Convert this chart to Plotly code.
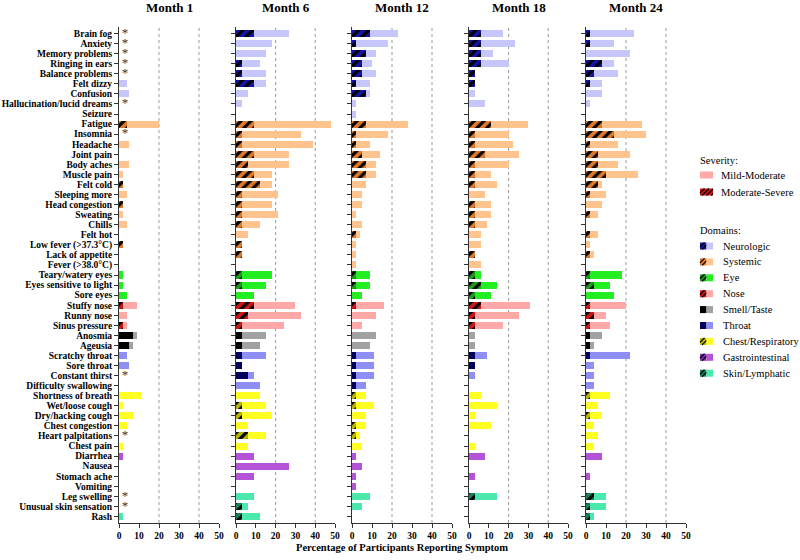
import plotly.graph_objects as go

symptoms = [
    "Brain fog", "Anxiety", "Memory problems", "Ringing in ears", "Balance problems",
    "Felt dizzy", "Confusion", "Hallucination/lucid dreams", "Seizure",
    "Fatigue", "Insomnia", "Headache", "Joint pain", "Body aches", "Muscle pain",
    "Felt cold", "Sleeping more", "Head congestion", "Sweating", "Chills", "Felt hot",
    "Low fever (>37.3°C)", "Lack of appetite", "Fever (>38.0°C)",
    "Teary/watery eyes", "Eyes sensitive to light", "Sore eyes",
    "Stuffy nose", "Runny nose", "Sinus pressure",
    "Anosmia", "Ageusia",
    "Scratchy throat", "Sore throat", "Constant thirst", "Difficulty swallowing",
    "Shortness of breath", "Wet/loose cough", "Dry/hacking cough", "Chest congestion",
    "Heart palpitations", "Chest pain",
    "Diarrhea", "Nausea", "Stomach ache", "Vomiting",
    "Leg swelling", "Unusual skin sensation", "Rash",
]
domains = (["Neurologic"] * 9 + ["Systemic"] * 15 + ["Eye"] * 3 + ["Nose"] * 3 +
           ["Smell/Taste"] * 2 + ["Throat"] * 4 + ["Chest/Respiratory"] * 6 +
           ["Gastrointestinal"] * 4 + ["Skin/Lymphatic"] * 3)

months = ["Month 1", "Month 6", "Month 12", "Month 18", "Month 24"]

# total percentage reporting symptom (any severity)
m1_total = [0, 0, 0, 0, 0, 4, 5, 0, 0,
            20, 0, 5, 0, 5, 2, 2, 4, 2, 2, 4, 0, 2, 0, 0,
            2, 2, 4, 9, 4, 4, 9, 7, 4, 5, 0, 0,
            11, 2, 7, 4, 0, 2, 2, 0, 0, 0, 0, 0, 2]
m1_severe = [0, 0, 0, 0, 0, 0, 0, 0, 0,
             4, 0, 0, 0, 0, 0, 2, 0, 2, 0, 0, 0, 2, 0, 0,
             0, 0, 0, 2, 0, 2, 7, 5, 0, 0, 0, 0,
             0, 0, 0, 0, 0, 0, 0, 0, 0, 0, 0, 0, 0]
m6_total = [27, 18, 15, 12, 15, 15, 6, 3, 0,
            48, 33, 39, 27, 27, 18, 18, 21, 18, 21, 12, 6, 3, 3, 0,
            18, 15, 9, 30, 33, 24, 15, 12, 15, 3, 9, 12,
            12, 15, 18, 6, 15, 6, 9, 27, 9, 0, 9, 6, 12]
m6_severe = [9, 0, 0, 3, 3, 9, 0, 0, 0,
             9, 3, 3, 9, 6, 9, 12, 3, 3, 3, 3, 0, 3, 3, 0,
             3, 3, 0, 9, 6, 3, 3, 3, 3, 3, 6, 0,
             0, 3, 3, 0, 6, 0, 0, 0, 0, 0, 0, 3, 3]
m12_total = [23, 18, 12, 10, 12, 9, 9, 2, 2,
             28, 18, 9, 14, 12, 12, 7, 5, 5, 2, 5, 4, 2, 2, 2,
             9, 9, 5, 16, 12, 5, 12, 9, 11, 11, 11, 7,
             7, 11, 7, 7, 4, 5, 2, 5, 2, 2, 9, 5, 0]
m12_severe = [9, 2, 7, 5, 5, 2, 7, 0, 0,
              7, 2, 2, 5, 7, 7, 0, 0, 0, 0, 0, 2, 0, 0, 0,
              2, 2, 0, 2, 0, 0, 0, 0, 2, 2, 2, 2,
              2, 2, 0, 2, 2, 0, 0, 0, 0, 0, 0, 0, 0]
m18_total = [17, 23, 12, 20, 3, 3, 3, 8, 0,
             30, 20, 22, 25, 20, 11, 14, 8, 11, 11, 9, 6, 6, 3, 6,
             6, 14, 11, 31, 25, 17, 3, 3, 9, 3, 3, 0,
             6, 14, 3, 11, 0, 3, 8, 0, 3, 0, 14, 0, 0]
m18_severe = [6, 6, 6, 6, 3, 3, 0, 0, 0,
              11, 3, 3, 8, 3, 3, 3, 0, 3, 3, 3, 0, 0, 3, 0,
              3, 6, 3, 6, 3, 3, 0, 0, 3, 3, 0, 0,
              0, 0, 0, 0, 0, 0, 0, 0, 0, 0, 3, 0, 0]
m24_total = [24, 14, 22, 14, 16, 8, 8, 2, 0,
             28, 30, 16, 22, 16, 26, 8, 10, 8, 6, 0, 6, 2, 4, 0,
             18, 12, 14, 20, 10, 12, 8, 4, 22, 4, 4, 4,
             12, 6, 8, 4, 6, 4, 8, 0, 2, 0, 10, 10, 4]
m24_severe = [2, 2, 0, 8, 4, 2, 0, 0, 0,
              8, 14, 2, 6, 6, 10, 6, 2, 0, 2, 0, 2, 0, 2, 0,
              2, 4, 0, 2, 4, 2, 2, 2, 2, 0, 0, 0,
              2, 0, 2, 0, 0, 0, 0, 0, 0, 0, 4, 2, 2]

not_asked_m1 = ["Brain fog", "Anxiety", "Memory problems", "Ringing in ears",
                "Balance problems", "Hallucination/lucid dreams", "Insomnia",
                "Constant thirst", "Heart palpitations", "Leg swelling",
                "Unusual skin sensation"]

totals = [m1_total, m6_total, m12_total, m18_total, m24_total]
severes = [m1_severe, m6_severe, m12_severe, m18_severe, m24_severe]

domain_names = ["Neurologic", "Systemic", "Eye", "Nose", "Smell/Taste", "Throat",
                "Chest/Respiratory", "Gastrointestinal", "Skin/Lymphatic"]
dark = {"Neurologic": "#1414a8", "Systemic": "#e0782a", "Eye": "#1c9c1c",
        "Nose": "#d01414", "Smell/Taste": "#000000", "Throat": "#00005a",
        "Chest/Respiratory": "#b4b400", "Gastrointestinal": "#8a2ab4",
        "Skin/Lymphatic": "#148262"}
light = {"Neurologic": "#c6c6fa", "Systemic": "#ffc48e", "Eye": "#22ee22",
         "Nose": "#ffa8a8", "Smell/Taste": "#a2a2a2", "Throat": "#8e8ef4",
         "Chest/Respiratory": "#ffff22", "Gastrointestinal": "#b452d8",
         "Skin/Lymphatic": "#4ae8aa"}
hatched = {"Neurologic": True, "Systemic": True, "Eye": True, "Nose": True,
           "Smell/Taste": False, "Throat": False, "Chest/Respiratory": True,
           "Gastrointestinal": True, "Skin/Lymphatic": True}

W, H = 800, 560
panel_px = [(119, 219), (236, 335), (352, 452), (469, 568), (586, 686)]
y_top, y_bot = 27, 523


def px(x):
    return x / W


def py(y):
    return 1 - y / H


font_b = dict(family="Liberation Serif", size=9.5, color="black", weight="bold")

fig = go.Figure()
shapes = []
annotations = []

for i, m in enumerate(months):
    xa = "x" if i == 0 else f"x{i+1}"
    ya = "y" if i == 0 else f"y{i+1}"
    sev = severes[i]
    tot = totals[i]
    mild = [t - s for t, s in zip(tot, sev)]
    # moderate-severe part: one trace per domain (scalar colour, black hatch)
    for d in domain_names:
        ys = [s for s, dd in zip(symptoms, domains) if dd == d]
        xs = [v for v, dd in zip(sev, domains) if dd == d]
        mk = dict(color=dark[d], line=dict(width=0))
        if hatched[d]:
            mk["pattern"] = dict(shape="/", fgcolor="#000000", bgcolor=dark[d],
                                 fillmode="overlay", fgopacity=1, size=7,
                                 solidity=0.45)
        fig.add_trace(go.Bar(y=ys, x=xs, orientation="h", xaxis=xa, yaxis=ya,
                             width=0.7, marker=mk, showlegend=False,
                             hoverinfo="x+y"))
    fig.add_trace(go.Bar(
        y=symptoms, x=mild, orientation="h", xaxis=xa, yaxis=ya, width=0.7,
        marker=dict(color=[light[d] for d in domains], line=dict(width=0)),
        showlegend=False, hoverinfo="x+y"))

    x0, x1 = panel_px[i]
    axis_common = dict(showline=True, linecolor="#333", linewidth=1, ticks="outside",
                       ticklen=4, tickcolor="#333", showgrid=False, zeroline=False,
                       automargin=False, tickfont=font_b, fixedrange=True)
    fig.layout[("xaxis" if i == 0 else f"xaxis{i+1}")] = dict(
        domain=[px(x0), px(x1)], anchor=ya, range=[0, 50],
        tickvals=[0, 10, 20, 30, 40, 50], **axis_common)
    fig.layout[("yaxis" if i == 0 else f"yaxis{i+1}")] = dict(
        domain=[py(y_bot), py(y_top)], anchor=xa, type="category",
        categoryorder="array", categoryarray=symptoms, range=[48.65, -0.65],
        tickmode="array", tickvals=symptoms,
        showticklabels=(i == 0), **axis_common)
    for gx in (20, 40):
        shapes.append(dict(type="line", xref=xa, yref=f"{ya} domain", x0=gx, x1=gx,
                           y0=0, y1=1, line=dict(color="#999", width=1, dash="dot"),
                           layer="below"))
    annotations.append(dict(text=m, x=px((x0 + x1) / 2), y=py(8), xref="paper",
                            yref="paper", showarrow=False, xanchor="center",
                            yanchor="middle",
                            font=dict(family="Liberation Serif", size=13,
                                      color="black", weight="bold")))

# asterisks for symptoms not asked at Month 1
fig.add_trace(go.Scatter(x=[3] * len(not_asked_m1), y=not_asked_m1, mode="text",
                         text=["*"] * len(not_asked_m1), textposition="middle center",
                         textfont=dict(family="Liberation Serif", size=13, color="#333333"),
                         xaxis="x", yaxis="y", showlegend=False, hoverinfo="skip"))

annotations.append(dict(text="Percentage of Participants Reporting Symptom",
                        x=px(402), y=py(547), xref="paper", yref="paper",
                        showarrow=False, xanchor="center", yanchor="middle",
                        font=dict(family="Liberation Serif", size=10.5, color="black",
                                  weight="bold")))

# legend (drawn manually)
leg_font = dict(family="Liberation Serif", size=10.5, color="black")


def swatch(xa, xb, yc, color, hatch):
    shapes.append(dict(type="rect", xref="paper", yref="paper", x0=px(xa), x1=px(xb),
                       y0=py(yc + 3.5), y1=py(yc - 3.5), fillcolor=color,
                       line=dict(width=0)))
    if hatch:
        step = 4.5
        s = xa - 7
        while s < xb:
            lx0, lx1 = max(s, xa), min(s + 7, xb)
            ly0 = yc + 3.5 - (lx0 - s)
            ly1 = yc + 3.5 - (lx1 - s)
            if lx1 > lx0:
                shapes.append(dict(type="line", xref="paper", yref="paper",
                                   x0=px(lx0), x1=px(lx1), y0=py(ly0), y1=py(ly1),
                                   line=dict(color="black", width=1.3)))
            s += step


def leg_text(t, x, y):
    annotations.append(dict(text=t, x=px(x), y=py(y), xref="paper", yref="paper",
                            showarrow=False, xanchor="left", yanchor="middle",
                            font=leg_font))


leg_text("Severity:", 698, 160)
swatch(700, 713, 175, light["Nose"], False)
leg_text("Mild-Moderate", 719, 175)
swatch(700, 713, 192, dark["Nose"], True)
leg_text("Moderate-Severe", 719, 192)
leg_text("Domains:", 698, 230)
for k, d in enumerate(domain_names):
    yc = 246 + k * 15.9
    swatch(700, 706.5, yc, dark[d], hatched[d])
    swatch(706.5, 713, yc, light[d], False)
    leg_text(d, 721, yc)

fig.update_layout(
    width=W, height=H, barmode="stack", bargap=0.3,
    margin=dict(l=0, r=0, t=0, b=0), paper_bgcolor="white", plot_bgcolor="white",
    shapes=shapes, annotations=annotations, showlegend=False,
    font=dict(family="Liberation Serif"),
)

fig.write_html("out.html", config={"displayModeBar": False},
               post_script="document.body.style.margin='0';document.body.style.overflow='hidden';")
